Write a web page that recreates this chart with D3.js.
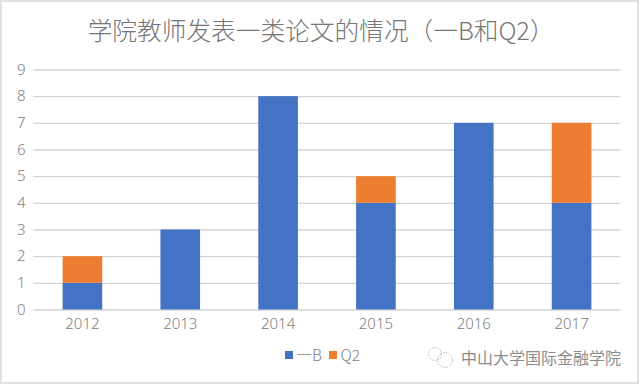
<!DOCTYPE html>
<html>
<head>
<meta charset="utf-8">
<script src="https://cdn.jsdelivr.net/npm/d3@7"></script>
<style>
  html, body { margin: 0; padding: 0; background: #fff; overflow: hidden; }
  text { font-family: "Noto Sans CJK SC", "Noto Sans", sans-serif; }
</style>
</head>
<body>
<div id="container"></div>
<script>
/** CONSTANTS AND GLOBALS */
const width = 640,
  height = 385,
  margin = { top: 69.5, bottom: 75.5, left: 33.5, right: 19.5 };

const years = ["2012", "2013", "2014", "2015", "2016", "2017"];
const seriesNames = ["一B", "Q2"];
const yiB = [1, 3, 8, 4, 7, 4];
const q2 = [1, 0, 0, 1, 0, 3];
const yTicks = [0, 1, 2, 3, 4, 5, 6, 7, 8, 9];
const titleText = "学院教师发表一类论文的情况（一B和Q2）";
const watermarkText = "中山大学国际金融学院";

const colors = ["#4472c4", "#ed7d31"];
const labelFont = "'Noto Sans', sans-serif";

const svg = d3.select("#container")
  .append("svg")
  .attr("width", width)
  .attr("height", height)
  .style("display", "block");

// screenshot frame
svg.append("rect")
  .attr("x", 1)
  .attr("y", 1)
  .attr("width", width - 3)
  .attr("height", height - 3)
  .attr("fill", "#fff")
  .attr("stroke", "#e2e2e2")
  .attr("stroke-width", 2);

const xScale = d3.scaleBand()
  .domain(years)
  .range([margin.left, width - margin.right])
  .paddingInner(0.595)
  .paddingOuter(0.2975);

const yScale = d3.scaleLinear()
  .domain([0, 9])
  .range([height - margin.bottom, margin.top]);

// gridlines + y labels
const yAxis = svg.append("g")
  .attr("transform", `translate(${margin.left},0)`)
  .call(d3.axisLeft(yScale)
    .tickValues(yTicks)
    .tickSize(-(width - margin.left - margin.right))
    .tickPadding(8));
yAxis.select(".domain").remove();
yAxis.selectAll("line").attr("stroke", "#d4d4d4").attr("stroke-width", 1.3);
yAxis.selectAll("text")
  .attr("fill", "#808080")
  .style("font-size", "15px")
  .style("font-weight", 300)
  .style("font-family", labelFont);

// stacked bars
const rows = years.map((y, i) => ({ year: y, yiB: yiB[i], q2: q2[i] }));
const stacked = d3.stack().keys(["yiB", "q2"])(rows);

svg.selectAll("g.layer")
  .data(stacked)
  .join("g")
  .attr("class", "layer")
  .attr("fill", (d, i) => colors[i])
  .selectAll("rect")
  .data(d => d)
  .join("rect")
  .attr("x", d => xScale(d.data.year))
  .attr("y", d => yScale(d[1]))
  .attr("width", xScale.bandwidth())
  .attr("height", d => yScale(d[0]) - yScale(d[1]));

// x labels
const xAxis = svg.append("g")
  .attr("transform", `translate(0,${height - margin.bottom})`)
  .call(d3.axisBottom(xScale).tickSize(0).tickPadding(9));
xAxis.select(".domain").remove();
xAxis.selectAll("text")
  .attr("fill", "#808080")
  .style("font-size", "15px")
  .style("font-weight", 300)
  .style("font-family", labelFont);

// title
svg.append("text")
  .attr("x", 321)
  .attr("y", 40)
  .attr("text-anchor", "middle")
  .attr("fill", "#757575")
  .style("font-size", "24.7px")
  .style("font-weight", 300)
  .text(titleText);

// legend
const legendX = [285, 329];
const legend = svg.selectAll("g.legend")
  .data(seriesNames)
  .join("g")
  .attr("class", "legend")
  .attr("transform", (d, i) => `translate(${legendX[i]},355)`);
legend.append("rect")
  .attr("y", -4)
  .attr("width", 8)
  .attr("height", 8)
  .attr("fill", (d, i) => colors[i]);
legend.append("text")
  .attr("x", 11.5)
  .attr("y", 5.5)
  .attr("fill", "#808080")
  .style("font-size", "15.5px")
  .style("font-weight", 300)
  .text(d => d);

// watermark
svg.append("text")
  .attr("x", 461)
  .attr("y", 364)
  .attr("fill", "#8c8c8c")
  .style("font-size", "16px")
  .text(watermarkText);

const wechat = svg.append("g")
  .attr("fill", "none")
  .attr("stroke", "#b5b5b5")
  .attr("stroke-width", 1)
  .attr("stroke-dasharray", "1.5 1.5");
wechat.append("circle").attr("cx", 435).attr("cy", 354).attr("r", 6.5);
wechat.append("circle").attr("cx", 445).attr("cy", 360).attr("r", 7.5);
</script>
</body>
</html>
